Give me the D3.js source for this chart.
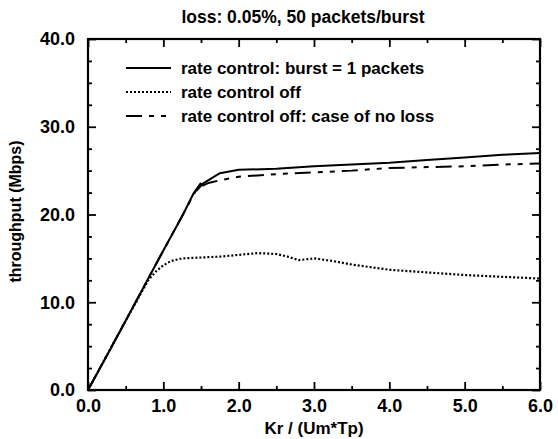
<!DOCTYPE html>
<html>
<head>
<meta charset="utf-8">
<script src="https://cdn.jsdelivr.net/npm/d3@7"></script>
<style>
  body { margin: 0; background: #fff; }
  text { font-family: "Liberation Sans", Arial, Helvetica, sans-serif; font-weight: bold; fill: #000; }
</style>
</head>
<body>
<div id="chart-container"></div>
<script>
// Set the dimensions and margins of the graph
const margin = { top: 39, right: 18, bottom: 49, left: 88 },
    width = 558 - margin.left - margin.right,
    height = 439 - margin.top - margin.bottom;

// Series
const rateX = [0, 0.25, 0.5, 0.75, 1.0, 1.25, 1.4, 1.5, 1.44, 1.52, 1.75, 2.0, 2.5, 3.0, 3.5, 4.0, 4.5, 5.0, 5.5, 6.0];
const rateY = [0, 3.9, 7.9, 11.9, 15.9, 19.8, 22.4, 23.6, 22.7, 23.5, 24.7, 25.1, 25.2, 25.5, 25.7, 25.9, 26.2, 26.5, 26.8, 27.0];

const offX = [0, 0.5, 0.8, 0.9, 1.0, 1.1, 1.25, 1.5, 1.75, 2.0, 2.25, 2.5, 2.65, 2.8, 3.0, 3.25, 3.5, 3.75, 4.0, 4.5, 5.0, 5.5, 6.0];
const offY = [0, 7.9, 12.5, 13.5, 14.2, 14.7, 15.0, 15.1, 15.2, 15.4, 15.6, 15.5, 15.2, 14.8, 15.0, 14.7, 14.3, 14.0, 13.7, 13.4, 13.1, 12.9, 12.7];

const noLossX = [0, 0.5, 1.0, 1.45, 1.6, 1.75, 2.0, 2.5, 3.0, 3.5, 4.0, 4.5, 5.0, 5.5, 6.0];
const noLossY = [0, 7.9, 15.9, 23.0, 23.6, 23.9, 24.3, 24.6, 24.8, 25.0, 25.3, 25.4, 25.5, 25.7, 25.8];

// Labels and ticks
const title = "loss: 0.05%, 50 packets/burst";
const xLabel = "Kr / (Um*Tp)";
const yLabel = "throughput (Mbps)";
const legendLabels = [
    "rate control: burst = 1 packets",
    "rate control off",
    "rate control off: case of no loss"
];
const xTicks = [0, 1, 2, 3, 4, 5, 6];
const xMinor = [0.5, 1.5, 2.5, 3.5, 4.5, 5.5];
const yTicks = [0, 10, 20, 30, 40];
const yMinor = [2.5, 5, 7.5, 12.5, 15, 17.5, 22.5, 25, 27.5, 32.5, 35, 37.5];

const dashes = [null, "2,2", "16,7,5,7,5,7"];

function init() {
    const svg = d3.select("#chart-container")
        .append("svg")
        .attr("width", width + margin.left + margin.right)
        .attr("height", height + margin.top + margin.bottom)
        .append("g")
        .attr("transform", `translate(${margin.left},${margin.top})`);

    const xScale = d3.scaleLinear().domain([0, 6]).range([0, width]);
    const yScale = d3.scaleLinear().domain([0, 40]).range([height, 0]);

    // Title
    svg.append("text")
        .attr("x", width / 2 - 11)
        .attr("y", -16)
        .attr("text-anchor", "middle")
        .style("font-size", "17.5px")
        .text(title);

    // Major / minor ticks on all four sides, pointing inward
    const fmt = d => d.toFixed(1);
    svg.append("g")
        .attr("transform", `translate(0,${height})`)
        .call(d3.axisBottom(xScale).tickValues(xTicks).tickSize(-8).tickPadding(9).tickFormat(fmt))
        .call(g => g.selectAll("text").style("font-size", "18px"));
    svg.append("g")
        .attr("transform", `translate(0,${height})`)
        .call(d3.axisBottom(xScale).tickValues(xMinor).tickSize(-4).tickFormat(""));
    svg.append("g")
        .call(d3.axisTop(xScale).tickValues(xTicks).tickSize(-8).tickFormat(""));
    svg.append("g")
        .call(d3.axisTop(xScale).tickValues(xMinor).tickSize(-4).tickFormat(""));

    svg.append("g")
        .call(d3.axisLeft(yScale).tickValues(yTicks).tickSize(-8).tickPadding(13).tickFormat(fmt))
        .call(g => g.selectAll("text").style("font-size", "18px"));
    svg.append("g")
        .call(d3.axisLeft(yScale).tickValues(yMinor).tickSize(-4).tickFormat(""));
    svg.append("g")
        .attr("transform", `translate(${width},0)`)
        .call(d3.axisRight(yScale).tickValues(yTicks).tickSize(-8).tickFormat(""));
    svg.append("g")
        .attr("transform", `translate(${width},0)`)
        .call(d3.axisRight(yScale).tickValues(yMinor).tickSize(-4).tickFormat(""));

    svg.selectAll(".domain").remove();
    svg.selectAll(".tick line").attr("stroke", "#000").attr("stroke-width", 1.8);
    svg.selectAll(".tick text").attr("fill", "#000");

    // Frame
    svg.append("rect")
        .attr("width", width)
        .attr("height", height)
        .attr("fill", "none")
        .attr("stroke", "#000")
        .attr("stroke-width", 2.2);

    // Axis titles
    svg.append("text")
        .attr("x", width / 2)
        .attr("y", height + 44)
        .attr("text-anchor", "middle")
        .style("font-size", "17px")
        .text(xLabel);

    svg.append("text")
        .attr("transform", `translate(${-67},${height / 2 - 3}) rotate(-90)`)
        .attr("text-anchor", "middle")
        .style("font-size", "16px")
        .text(yLabel);

    // Lines
    const series = [
        d3.zip(rateX, rateY),
        d3.zip(offX, offY),
        d3.zip(noLossX, noLossY)
    ];
    const line = d3.line()
        .x(d => xScale(d[0]))
        .y(d => yScale(d[1]));

    svg.selectAll("path.series")
        .data(series)
        .enter()
        .append("path")
        .attr("class", "series")
        .attr("d", line)
        .attr("fill", "none")
        .attr("stroke", "#000")
        .attr("stroke-width", (d, i) => i === 1 ? 2.2 : 2)
        .attr("stroke-dasharray", (d, i) => dashes[i]);

    // Legend
    const legend = svg.append("g").attr("transform", "translate(38,29)");
    legendLabels.forEach((lab, i) => {
        const row = legend.append("g").attr("transform", `translate(0,${i * 24})`);
        row.append("line")
            .attr("x1", 0).attr("x2", 45)
            .attr("stroke", "#000")
            .attr("stroke-width", i === 1 ? 2 : 1.8)
            .attr("stroke-dasharray", dashes[i]);
        row.append("text")
            .attr("x", 55)
            .attr("y", 6)
            .style("font-size", "17px")
            .text(lab);
    });
}

window.onload = init;
</script>
</body>
</html>
